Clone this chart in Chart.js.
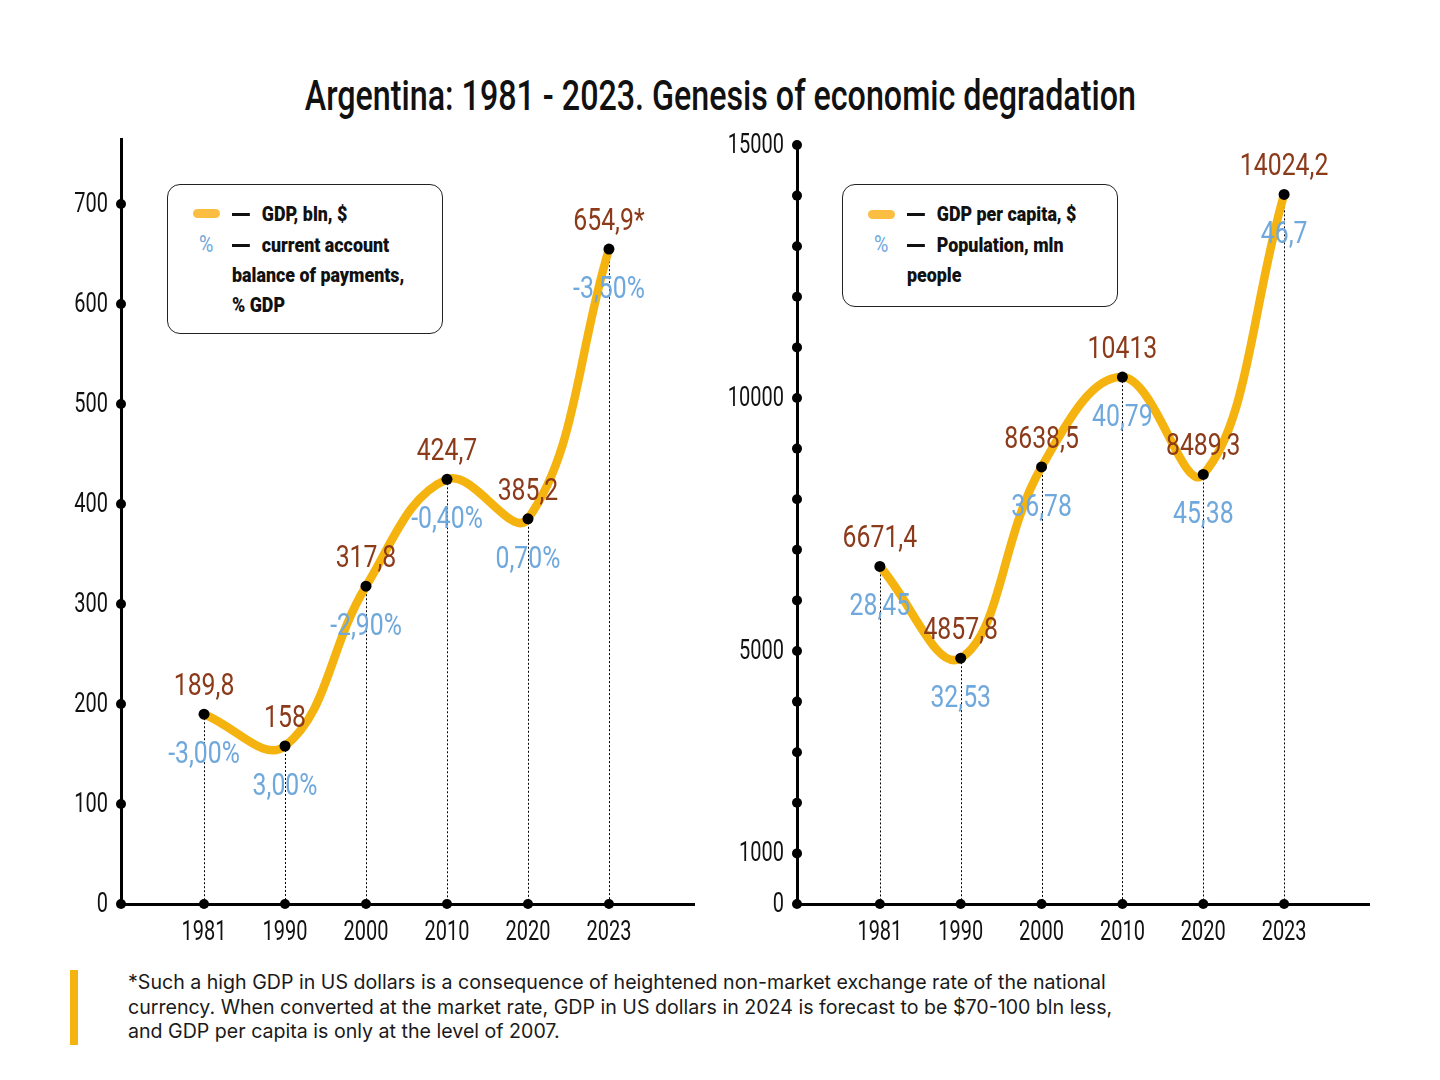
<!DOCTYPE html>
<html>
<head>
<meta charset="utf-8">
<script src="https://cdn.jsdelivr.net/npm/chart.js@4.4.1/dist/chart.umd.min.js"></script>
<style>
  html,body{margin:0;padding:0;background:#fff;}
  body{width:1440px;height:1080px;position:relative;overflow:hidden;font-family:Roboto,sans-serif;}
  #title{position:absolute;left:0;width:1440px;top:69px;text-align:center;font-size:43px;font-weight:500;color:#111;white-space:nowrap;line-height:52px;}
  #title span{display:inline-block;transform-origin:center;}
  canvas{position:absolute;}
  .legend{position:absolute;border:1.3px solid #222;border-radius:13px;background:#fff;}
  .lg{position:absolute;font-weight:900;font-size:21px;color:#111;white-space:nowrap;line-height:20px;transform:scaleX(0.85);transform-origin:left center;}
  .dash{display:inline-block;width:21px;height:2.5px;background:#111;vertical-align:middle;margin-right:14px;position:relative;top:-1px;}
  .pill{position:absolute;width:27px;height:9px;border-radius:5px;background:#FBBE42;}
  .pct{position:absolute;color:#6FA8DC;font-size:23px;line-height:20px;transform:scaleX(0.85);transform-origin:left center;}
  #note{position:absolute;left:128px;top:970px;font-family:Inter,"Noto Sans",sans-serif;font-size:19.6px;line-height:24.5px;color:#1a1a1a;width:1010px;}
  #bar{position:absolute;left:70px;top:970px;width:8px;height:75px;background:#F5B30F;}
</style>
</head>
<body>
<div id="title"><span id="titleText">Argentina: 1981 - 2023. Genesis of economic degradation</span></div>

<canvas id="c1" width="720" height="840" style="left:0;top:120px;width:720px;height:840px;"></canvas>
<canvas id="c2" width="740" height="840" style="left:700px;top:120px;width:740px;height:840px;"></canvas>

<div class="legend" style="left:167px;top:184px;width:274px;height:148px;"></div>
<div class="pill" style="left:193px;top:209px;"></div>
<div class="lg" style="left:232px;top:204px;"><span class="dash"></span>GDP, bln, $</div>
<div class="pct" style="left:199px;top:235px;">%</div>
<div class="lg" style="left:232px;top:235px;"><span class="dash"></span>current account</div>
<div class="lg" style="left:232px;top:265px;">balance of payments,</div>
<div class="lg" style="left:232px;top:295px;">% GDP</div>

<div class="legend" style="left:842px;top:184px;width:274px;height:121px;"></div>
<div class="pill" style="left:868px;top:210px;"></div>
<div class="lg" style="left:907px;top:204px;"><span class="dash"></span>GDP per capita, $</div>
<div class="pct" style="left:874px;top:235px;">%</div>
<div class="lg" style="left:907px;top:235px;"><span class="dash"></span>Population, mln</div>
<div class="lg" style="left:907px;top:265px;">people</div>

<div id="bar"></div>
<div id="note">*Such a high GDP in US dollars is a consequence of heightened non-market exchange rate of the national currency. When converted at the market rate, GDP in US dollars in 2024 is forecast to be $70-100 bln less, and GDP per capita is only at the level of 2007.</div>

<script>
// ---------- DATA ----------
const years = ['1981', '1990', '2000', '2010', '2020', '2023'];
const gdpBln = [189.8, 158, 317.8, 424.7, 385.2, 654.9];
const gdpBlnLabels = ['189,8', '158', '317,8', '424,7', '385,2', '654,9*'];
const currentAccountPct = ['-3,00%', '3,00%', '-2,90%', '-0,40%', '0,70%', '-3,50%'];
const gdpPerCapita = [6671.4, 4857.8, 8638.5, 10413, 8489.3, 14024.2];
const gdpPerCapitaLabels = ['6671,4', '4857,8', '8638,5', '10413', '8489,3', '14024,2'];
const populationMln = ['28,45', '32,53', '36,78', '40,79', '45,38', '46,7'];
const leftTicks = [0, 100, 200, 300, 400, 500, 600, 700];
const rightTicks = [0, 1000, 2000, 3000, 4000, 5000, 6000, 7000, 8000, 9000, 10000, 11000, 12000, 13000, 14000, 15000];
const rightTickLabels = [0, 1000, 5000, 10000, 15000];

// ---------- STYLE ----------
const FONT = 'Roboto, sans-serif';
const LINE = '#F5B30F';
const BROWN = '#8B3A1A';
const BLUE = '#6FA8DC';

// fit title width
(function(){
  const s = document.getElementById('titleText');
  const w = s.getBoundingClientRect().width;
  s.style.transform = 'scaleX(' + (831 / w) + ')';
})();

function drawText(ctx, text, x, y, align, sx) {
  ctx.save();
  ctx.translate(x, y);
  ctx.scale(sx, 1);
  ctx.textAlign = align;
  ctx.textBaseline = 'middle';
  ctx.fillText(text, 0, 0);
  ctx.restore();
}

const decorPlugin = {
  id: 'decor',
  beforeDatasetsDraw(chart) {
    const ctx = chart.ctx, area = chart.chartArea;
    const meta = chart.getDatasetMeta(0);
    ctx.save();
    ctx.strokeStyle = '#000';
    ctx.lineWidth = 1;
    ctx.setLineDash([2, 2]);
    meta.data.forEach(p => {
      ctx.beginPath();
      ctx.moveTo(Math.round(p.x) + 0.5, p.y);
      ctx.lineTo(Math.round(p.x) + 0.5, area.bottom);
      ctx.stroke();
    });
    ctx.restore();
  },
  afterDatasetsDraw(chart, args, opts) {
    const ctx = chart.ctx;
    const meta = chart.getDatasetMeta(0);
    ctx.save();
    ctx.font = '31px ' + FONT;
    meta.data.forEach((p, i) => {
      ctx.fillStyle = BROWN;
      drawText(ctx, opts.top[i], p.x, p.y - 27, 'center', 0.8);
      ctx.fillStyle = BLUE;
      drawText(ctx, opts.bottom[i], p.x, p.y + 41, 'center', 0.8);
    });
    ctx.restore();
  },
  afterDraw(chart, args, opts) {
    const ctx = chart.ctx, area = chart.chartArea;
    const ys = chart.scales.y, xs = chart.scales.x;
    ctx.save();
    ctx.fillStyle = '#000';
    ys.ticks.forEach(t => {
      ctx.beginPath();
      ctx.arc(area.left, ys.getPixelForValue(t.value), 5, 0, Math.PI * 2);
      ctx.fill();
    });
    xs.ticks.forEach(t => {
      ctx.beginPath();
      ctx.arc(xs.getPixelForValue(t.value), area.bottom, 5, 0, Math.PI * 2);
      ctx.fill();
    });
    // tick labels (condensed)
    ctx.fillStyle = '#111';
    ctx.font = '27px ' + FONT;
    ys.ticks.forEach(t => {
      const lbl = opts.yLabel(t.value);
      if (lbl) drawText(ctx, lbl, area.left - 13, ys.getPixelForValue(t.value) + 1, 'right', 0.74);
    });
    xs.ticks.forEach(t => {
      drawText(ctx, years[t.value], xs.getPixelForValue(t.value), area.bottom + 29, 'center', 0.74);
    });
    ctx.restore();
  }
};

function makeChart(id, values, topLabels, bottomLabels, yMax, ticks, tickLabelFn, yWidth, padTop, padRight) {
  return new Chart(document.getElementById(id), {
    type: 'line',
    data: {
      datasets: [{
        data: values.map((v, i) => ({ x: i, y: v })),
        borderColor: LINE,
        borderWidth: 8.5,
        borderCapStyle: 'round',
        tension: 0.4,
        pointRadius: 5.5,
        pointBackgroundColor: '#000',
        pointBorderWidth: 0,
        fill: false
      }]
    },
    options: {
      responsive: false,
      animation: false,
      layout: { padding: { left: 0, top: padTop, right: padRight, bottom: 0 } },
      plugins: {
        legend: { display: false },
        tooltip: { enabled: false },
        decor: { top: topLabels, bottom: bottomLabels, yLabel: tickLabelFn }
      },
      scales: {
        x: {
          type: 'linear',
          min: -1.025,
          max: 6.05,
          afterBuildTicks: s => { s.ticks = years.map((_, i) => ({ value: i })); },
          afterFit: s => { s.height = 56; },
          grid: { display: false, drawTicks: false },
          border: { display: true, color: '#000', width: 3 },
          ticks: { display: false }
        },
        y: {
          min: 0,
          max: yMax,
          afterBuildTicks: s => { s.ticks = ticks.map(v => ({ value: v })); },
          afterFit: s => { s.width = yWidth; },
          grid: { display: false, drawTicks: false },
          border: { display: true, color: '#000', width: 3 },
          ticks: { display: false }
        }
      }
    },
    plugins: [decorPlugin]
  });
}

makeChart('c1', gdpBln, gdpBlnLabels, currentAccountPct, 765, leftTicks, v => String(v), 121, 19, 26);
makeChart('c2', gdpPerCapita, gdpPerCapitaLabels, populationMln, 15000, rightTicks,
  v => rightTickLabels.includes(v) ? String(v) : '', 97, 25, 71);
</script>
</body>
</html>
